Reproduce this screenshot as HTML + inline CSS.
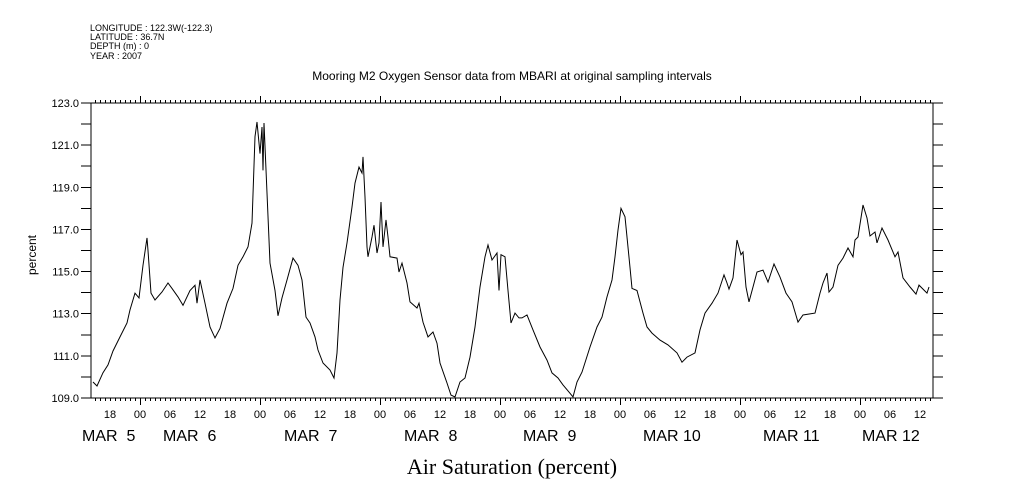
<!DOCTYPE html>
<html><head><meta charset="utf-8"><style>
body{margin:0;background:#fff;}
svg{display:block;font-family:"Liberation Sans",sans-serif;}
#dates text{white-space:pre;}
</style></head><body>
<svg id="chart" width="1009" height="504" viewBox="0 0 1009 504" xmlns="http://www.w3.org/2000/svg">
<g font-size="9" fill="#000">
<text x="90" y="31">LONGITUDE : 122.3W(-122.3)</text>
<text x="90" y="40">LATITUDE : 36.7N</text>
<text x="90" y="49">DEPTH (m) : 0</text>
<text x="90" y="59">YEAR : 2007</text>
</g>
<text x="512" y="80" font-size="12" text-anchor="middle">Mooring M2 Oxygen Sensor data from MBARI at original sampling intervals</text>
<text x="0" y="0" font-size="12" text-anchor="middle" transform="translate(36,255) rotate(-90)">percent</text>
<text x="512" y="474" font-size="22" text-anchor="middle" font-family="Liberation Serif, serif">Air Saturation (percent)</text>
<g id="axes"></g>
<g id="dates" font-size="16">
<text x="82" y="441">MAR  5</text>
<text x="163" y="441">MAR  6</text>
<text x="284" y="441">MAR  7</text>
<text x="404" y="441">MAR  8</text>
<text x="523" y="441">MAR  9</text>
<text x="643" y="441">MAR 10</text>
<text x="763" y="441">MAR 11</text>
<text x="862" y="441">MAR 12</text>
</g>
<path id="series" fill="none" stroke="#000" stroke-width="1"/>
</svg>
<script>
// hours since MAR 4 00:00
const hours=[14.6,15.4,16.6,17.6,18.6,20,21.4,22,23,23.8,24.6,25.4,25.6,26.2,27,28.4,29.6,30.4,31.6,32.6,34,35,35.4,36,37,38,39,40,41.4,42.6,43.6,44.6,45.6,46.4,47,47.4,48,48.4,48.6,48.8,49.4,50,51,51.6,52.4,53.4,54.6,55.6,56.4,57.2,58,59,59.6,60.6,62,62.8,63.4,64,64.6,65.4,66.4,67,67.8,68.4,68.6,69,69.4,69.6,70.4,70.8,71.4,71.8,72.2,72.6,73.2,73.6,74,75.4,75.8,76.4,77.4,78,79.4,79.8,80.6,81.6,82.6,83.4,84,85.4,86.2,87,88,89,90,91,92,93,93.6,94.4,95.4,95.8,96.2,97,97.6,98.2,99,99.8,100.4,101.4,102.6,104,105.4,106.4,107.6,108.6,109.8,110.6,111.4,112.4,114,115.4,116.4,117.4,118.4,119,119.6,120.2,121,122,122.4,123.4,124.6,125.4,126.4,128,129.6,131.4,132.4,133.4,135,136,137,138.4,139.6,140.8,141.4,141.8,142.6,143.4,144.2,144.6,145.2,145.8,146.6,147.4,148.6,149.6,150.8,152,153.2,154.4,155,155.6,156.6,158,159,160,160.6,161.4,161.8,162.6,163.6,164.6,165.6,166.6,167,167.6,168.6,169.4,170,171,171.4,172.4,173.6,175,175.6,176.6,178,179.2,179.8,180.8,181.4,181.8];
const values=[109.76,109.57,110.2,110.57,111.23,111.9,112.56,113.18,113.98,113.75,115.3,116.6,116.0,113.98,113.65,114.03,114.46,114.2,113.8,113.4,114.1,114.35,113.5,114.6,113.5,112.37,111.85,112.3,113.5,114.2,115.3,115.7,116.17,117.3,121.4,122.1,120.6,121.86,119.8,122.05,118.73,115.4,114.1,112.9,113.75,114.6,115.64,115.3,114.6,112.84,112.56,111.9,111.28,110.66,110.33,109.95,111.14,113.65,115.2,116.36,118.06,119.2,119.96,119.68,120.44,118.54,116.17,115.7,116.64,117.2,115.88,116.36,118.3,116.17,117.45,116.64,115.7,115.64,114.98,115.4,114.46,113.56,113.27,113.5,112.6,111.9,112.13,111.6,110.66,109.71,109.14,109.05,109.76,109.95,110.94,112.37,114.27,115.7,116.26,115.55,115.88,114.1,115.8,115.7,114.1,112.56,113.03,112.8,112.8,112.94,112.23,111.42,110.8,110.19,109.95,109.62,109.28,109.05,109.76,110.23,111.42,112.37,112.84,113.8,114.6,115.7,116.97,118.0,117.6,115.2,114.2,114.1,113.03,112.37,112.08,111.75,111.52,111.14,110.7,110.94,111.14,112.23,113.03,113.5,113.98,114.84,114.46,114.17,114.7,116.5,115.8,115.93,114.27,113.56,114.27,114.98,115.07,114.5,115.36,114.74,113.98,113.56,113.08,112.6,112.94,112.99,113.03,113.98,114.46,114.93,114.03,114.27,115.3,115.64,116.12,115.7,116.5,116.64,118.16,117.54,116.69,116.88,116.36,117.07,116.5,115.7,115.93,114.7,114.27,113.93,114.36,114.12,113.98,114.27];
const yTickValues=[109,110,111,112,113,114,115,116,117,118,119,120,121,122,123];
const yTickLabels=["109.0","111.0","113.0","115.0","117.0","119.0","121.0","123.0"];
const hourLabelStart=18, hourLabelEnd=180, hourLabelStep=6;

const X0=91,X1=933,Y0=103,Y1=398;
const hMin=14.2,hMax=182.6,vMin=109,vMax=123;
const xPos=h=>X0+(h-hMin)/(hMax-hMin)*(X1-X0);
const yPos=v=>Y1-(v-vMin)/(vMax-vMin)*(Y1-Y0);
const NS="http://www.w3.org/2000/svg";
const ax=document.getElementById('axes');
let d=`M${X0} ${Y0}H${X1}V${Y1}H${X0}Z M${X1} ${Y1}H943 M${X1} ${Y0}H943`;
for(const v of yTickValues){const y=yPos(v);d+=`M${X0-10} ${y}H${X0} M${X1} ${y}H${X1+10}`;}
for(let h=Math.ceil(hMin);h<=hMax;h++){const x=xPos(h)+0.5;const L=(h%24===0)?7:3;d+=`M${x} ${Y1}v${L} M${x} ${Y0}v${-L}`;}
const p=document.createElementNS(NS,'path');


p.setAttribute('d',d);p.setAttribute('stroke','#000');p.setAttribute('fill','none');p.setAttribute('stroke-width','1');p.setAttribute('shape-rendering','crispEdges');
ax.appendChild(p);
yTickLabels.forEach(s=>{const t=document.createElementNS(NS,'text');


t.setAttribute('x',X0-12);t.setAttribute('y',yPos(parseFloat(s))+4);t.setAttribute('text-anchor','end');t.setAttribute('font-size','11');t.textContent=s;ax.appendChild(t);});
for(let h=hourLabelStart;h<=hourLabelEnd;h+=hourLabelStep){const t=document.createElementNS(NS,'text');


t.setAttribute('x',xPos(h));t.setAttribute('y',418);t.setAttribute('text-anchor','middle');t.setAttribute('font-size','11');t.textContent=String(h%24).padStart(2,'0');ax.appendChild(t);}
document.getElementById('series').setAttribute('d',hours.map((h,i)=>(i?'L':'M')+xPos(h).toFixed(1)+' '+yPos(values[i]).toFixed(1)).join(''));
</script>
</body></html>
